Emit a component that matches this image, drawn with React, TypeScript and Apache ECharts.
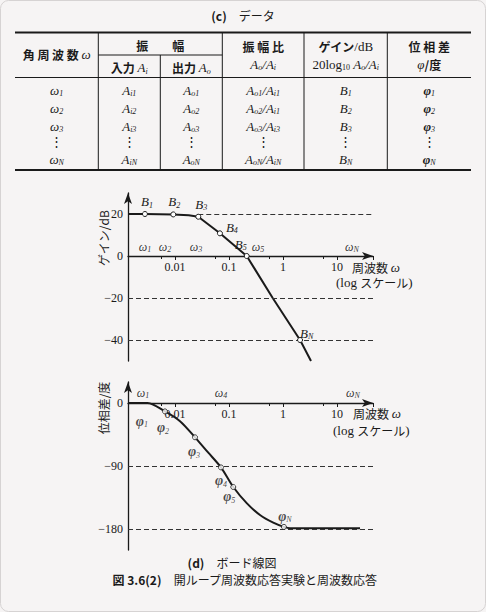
import React, { useEffect, useRef } from 'react';
import * as echarts from 'echarts';

const SERIF = '"Liberation Serif", "DejaVu Serif", serif';
const JP = '"Noto Sans CJK JP", "Noto Sans", sans-serif';
const INK = '#1a1a1a';

// ---- frequency axis range (log scale) ----
const OMEGA_MIN = 0.00135;
const OMEGA_MAX = 46.4;

// ---- gain plot ----
const GAIN_MIN = -50;
const GAIN_MAX = 30;
const gainTickLabels = [20, 0, -20, -40];
const gainPointNames = ['1', '2', '3', '4', '5', 'N'];
const gainPointOmega = [0.00278, 0.0093, 0.027, 0.068, 0.213, 2.07];
const gainPointDb = [20, 19.8, 18.7, 10.8, 0, -40];
const gainCurveOmega = [0.00135, 0.00278, 0.0093, 0.018, 0.027, 0.068, 0.213, 0.645, 2.07, 3.3];
const gainCurveDb = [20, 20, 19.8, 19.4, 18.7, 10.8, 0, -20, -40, -50];
const gainOmegaNames = ['1', '2', '3', '5', 'N'];
const gainOmegaPos = [0.00278, 0.00653, 0.0245, 0.344, 18.9];
const gainRefLevels = [20, -20, -40];

// ---- phase plot ----
const PHASE_MIN = -210;
const PHASE_MAX = 30;
const phaseTickLabels = [0, -90, -180];
const phasePointNames = ['1', '2', '3', '4', '5', 'N'];
const phasePointOmega = [0.00255, 0.00653, 0.0235, 0.0711, 0.12, 1.04];
const phasePointDeg = [0, -12, -49, -92, -120, -177];
const phaseCurveOmega = [0.00135, 0.0031, 0.00653, 0.0124, 0.0235, 0.0414, 0.0711, 0.12, 0.213, 0.375, 0.661, 1.04, 1.35, 26.7];
const phaseCurveDeg = [0, 0, -12, -26, -49, -71, -92, -120, -143, -160, -171, -177, -179, -179];
const phaseOmegaNames = ['1', '4', 'N'];
const phaseOmegaPos = [0.00255, 0.0711, 19.8];
const phaseRefLevels = [-90, -180];

// ---- data table (c) ----
const rowSubs = ['1', '2', '3', '', 'N'];
const ratioInputSubs = ['i1', 'i1', 'i3', '', 'iN'];

// layout
const PLOT_H = 168;
const GAIN_TOP = 193;
const PHASE_TOP = 382;

// label placement (layout, not data)
const gainLabelLayout = [
  { position: 'top', offset: [2, 0] },
  { position: 'top', offset: [1, 0] },
  { position: 'top', offset: [3, 0] },
  { position: 'right', offset: [1, -6] },
  { position: 'left', offset: [5, -12] },
  { position: 'right', offset: [-5, -7] },
];
const phaseLabelLayout = [
  { position: 'bottom', offset: [-1, 4] },
  { position: 'bottom', offset: [-2, 2] },
  { position: 'bottom', offset: [-1, 0] },
  { position: 'bottom', offset: [0, -1] },
  { position: 'bottom', offset: [-4, -5] },
  { position: 'top', offset: [1, 4] },
];

const minus = (v: number) => (v < 0 ? '\u2212' + Math.abs(v) : String(v));

const tableRich: any = {
  j: { fontFamily: JP, fontSize: 12, fontWeight: 'bold', color: INK, lineHeight: 15 },
  i: { fontFamily: SERIF, fontStyle: 'italic', fontSize: 13, color: INK, lineHeight: 15 },
  r: { fontFamily: SERIF, fontSize: 13, color: INK, lineHeight: 15 },
  s: { fontFamily: SERIF, fontStyle: 'italic', fontSize: 8, color: INK, lineHeight: 8, verticalAlign: 'bottom' },
  t: { fontFamily: SERIF, fontSize: 8, color: INK, lineHeight: 8, verticalAlign: 'bottom' },
  p: { fontFamily: SERIF, fontStyle: 'italic', fontWeight: 'bold', fontSize: 13, color: INK, lineHeight: 15 },
  c: { fontFamily: JP, fontSize: 12, color: INK, lineHeight: 14 },
  cb: { fontFamily: JP, fontSize: 12, fontWeight: 'bold', color: INK, lineHeight: 14 },
};

const pointRich: any = {
  b: { fontFamily: SERIF, fontStyle: 'italic', fontSize: 13, color: INK, lineHeight: 15 },
  p: { fontFamily: SERIF, fontStyle: 'italic', fontWeight: 'bold', fontSize: 14, color: INK, lineHeight: 15 },
  w: { fontFamily: SERIF, fontStyle: 'italic', fontSize: 12, color: '#000', lineHeight: 13 },
  s: { fontFamily: SERIF, fontStyle: 'italic', fontSize: 8, color: INK, lineHeight: 8, verticalAlign: 'bottom' },
  sw: { fontFamily: SERIF, fontStyle: 'italic', fontSize: 8, color: '#000', lineHeight: 8, verticalAlign: 'bottom' },
};

function txt(x: number, y: number, text: string, extra: any = {}) {
  return {
    type: 'text',
    x,
    y,
    silent: true,
    rotation: extra.rotation || 0,
    style: {
      text,
      rich: tableRich,
      align: extra.align || 'center',
      textAlign: extra.align || 'center',
      verticalAlign: 'middle',
      textVerticalAlign: 'middle',
      fill: INK,
    },
  };
}

function hline(x1: number, x2: number, y: number, w: number) {
  return { type: 'line', silent: true, shape: { x1, y1: y, x2, y2: y }, style: { stroke: INK, lineWidth: w } };
}
function vline(x: number, y1: number, y2: number, w: number) {
  return { type: 'line', silent: true, shape: { x1: x, y1, x2: x, y2 }, style: { stroke: INK, lineWidth: w } };
}

function buildGraphic() {
  const g: any[] = [];
  g.push({ type: 'rect', silent: true, z: -10, shape: { x: 0.5, y: 0.5, width: 485, height: 611, r: 8 }, style: { fill: '#f6f4f4', stroke: '#d6d3d3', lineWidth: 1 } });
  // title
  g.push(txt(243, 15, '{cb|(c)}{c|　データ}'));
  // table rules
  g.push(hline(15, 471, 32.5, 2));
  g.push(hline(98.3, 222.3, 55, 1));
  g.push(hline(15, 471, 77.5, 1));
  g.push(hline(15, 471, 170, 2));
  [98.3, 222.3, 304, 387.3].forEach((x) => g.push(vline(x, 32.5, 170, 1)));
  g.push(vline(160.3, 55, 170, 1));
  // header
  g.push(txt(56.7, 54, '{j|角 周 波 数 }{i|ω}'));
  g.push(txt(160.3, 45, '{j|振　　幅}'));
  g.push(txt(129.3, 67.5, '{j|入力 }{i|A}{s|i}'));
  g.push(txt(191.3, 67.5, '{j|出力 }{i|A}{s|o}'));
  g.push(txt(263.2, 46.5, '{j|振 幅 比}'));
  g.push(txt(263.2, 64, '{i|A}{s|o}{i|/A}{s|i}'));
  g.push(txt(345.7, 46.5, '{j|ゲイン}{r|/dB}'));
  g.push(txt(345.7, 64, '{r|20log}{t|10}{r| }{i|A}{s|o}{i|/A}{s|i}'));
  g.push(txt(429.2, 46.5, '{j|位 相 差}'));
  g.push(txt(429.2, 64, '{i|φ}{j|/度}'));
  // rows
  const rowY = [90, 108.3, 126, 141.7, 159.3];
  const colX = [56.7, 129.3, 191.3, 263.2, 345.7, 429.2];
  rowSubs.forEach((n, k) => {
    const cells = n
      ? [
          `{i|ω}{s|${n}}`,
          `{i|A}{s|i${n}}`,
          `{i|A}{s|o${n}}`,
          `{i|A}{s|o${n}}{i|/A}{s|${ratioInputSubs[k]}}`,
          `{i|B}{s|${n}}`,
          `{p|φ}{s|${n}}`,
        ]
      : colX.map(() => '{r|⋮}');
    cells.forEach((c, ci) => g.push(txt(colX[ci], rowY[k], c)));
  });
  // axis titles
  g.push(txt(103, 238, '{c|ゲイン/dB}', { rotation: Math.PI / 2 }));
  g.push(txt(103, 408, '{c|位相差/度}', { rotation: Math.PI / 2 }));
  g.push(txt(352, 267, '{c|周波数 }{i|ω}', { align: 'left' }));
  g.push(txt(336, 282, '{r|(log }{c|スケール}{r|)}', { align: 'left' }));
  g.push(txt(353, 413, '{c|周波数 }{i|ω}', { align: 'left' }));
  g.push(txt(333, 430, '{r|(log }{c|スケール}{r|)}', { align: 'left' }));
  // captions
  g.push(txt(232, 562, '{cb|(d)}{c|　ボード線図}'));
  g.push(txt(245, 579, '{cb|図 3.6(2)}{c|　開ループ周波数応答実験と周波数応答}'));
  return g;
}

// x axis drawn along the zero line of its value axis
const xAxisBase = (gridIndex: number, yMin: number, yMax: number) => ({
  type: 'log',
  gridIndex,
  logBase: 10,
  min: OMEGA_MIN,
  max: OMEGA_MAX,
  position: 'bottom',
  offset: -((0 - yMin) / (yMax - yMin)) * PLOT_H,
  axisLine: { show: true, onZero: false, symbol: ['none', 'arrow'], symbolSize: [6, 11], lineStyle: { color: INK, width: 1.3 } },
  axisTick: { show: true, length: 4, lineStyle: { color: INK, width: 1 } },
  minorTick: { show: true, splitNumber: 2, length: 3, lineStyle: { color: INK, width: 1 } },
  axisLabel: {
    margin: 5,
    fontFamily: SERIF,
    fontSize: 12,
    color: INK,
    showMinLabel: false,
    showMaxLabel: false,
    formatter: (v: number) => String(parseFloat(Number(v).toPrecision(3))),
  },
  splitLine: { show: false },
  minorSplitLine: { show: false },
});

const yAxisBase = (gridIndex: number, min: number, max: number, interval: number, shown: number[]) => ({
  type: 'value',
  gridIndex,
  min,
  max,
  interval,
  axisLine: { show: true, onZero: false, symbol: ['none', 'arrow'], symbolSize: [6, 11], lineStyle: { color: INK, width: 1.3 } },
  axisTick: { show: false },
  splitLine: { show: false },
  axisLabel: {
    margin: 5,
    fontFamily: SERIF,
    fontSize: 12,
    color: INK,
    formatter: (v: number) => (shown.indexOf(v) >= 0 ? minus(v) : ''),
  },
});

const dashStyle = { type: [5, 3], color: '#333', width: 1 };

function buildOption(): any {
  return {
    animation: false,
    backgroundColor: '#f6f4f4',
    graphic: { elements: buildGraphic() },
    grid: [
      { left: 128, top: GAIN_TOP, width: 245, height: PLOT_H },
      { left: 128, top: PHASE_TOP, width: 245, height: PLOT_H },
    ],
    xAxis: [xAxisBase(0, GAIN_MIN, GAIN_MAX), xAxisBase(1, PHASE_MIN, PHASE_MAX)],
    yAxis: [
      yAxisBase(0, GAIN_MIN, GAIN_MAX, 10, gainTickLabels),
      yAxisBase(1, PHASE_MIN, PHASE_MAX, 30, phaseTickLabels),
    ],
    series: [
      {
        type: 'line',
        xAxisIndex: 0,
        yAxisIndex: 0,
        data: gainCurveOmega.map((w, i) => [w, gainCurveDb[i]]),
        showSymbol: false,
        symbol: 'none',
        lineStyle: { color: INK, width: 2 },
        z: 3,
        silent: true,
        markLine: {
          silent: true,
          symbol: ['none', 'none'],
          label: { show: false },
          lineStyle: dashStyle,
          data: [
            [{ coord: [gainPointOmega[2], gainRefLevels[0]] }, { coord: [OMEGA_MAX, gainRefLevels[0]] }],
            { yAxis: gainRefLevels[1] },
            { yAxis: gainRefLevels[2] },
          ],
        },
      },
      {
        type: 'scatter',
        xAxisIndex: 0,
        yAxisIndex: 0,
        symbol: 'circle',
        symbolSize: 5,
        itemStyle: { color: '#ffffff', borderColor: INK, borderWidth: 1, opacity: 1 },
        z: 5,
        silent: true,
        label: {
          show: true,
          distance: 2,
          formatter: (p: any) => `{b|B}{s|${gainPointNames[p.dataIndex]}}`,
          rich: pointRich,
        },
        data: gainPointOmega.map((w, i) => ({ value: [w, gainPointDb[i]], label: gainLabelLayout[i] })),
      },
      {
        type: 'scatter',
        xAxisIndex: 0,
        yAxisIndex: 0,
        symbolSize: 1,
        itemStyle: { color: 'rgba(0,0,0,0)' },
        silent: true,
        z: 6,
        label: {
          show: true,
          position: 'top',
          distance: 2,
          formatter: (p: any) => `{w|ω}{sw|${gainOmegaNames[p.dataIndex]}}`,
          rich: pointRich,
        },
        data: gainOmegaPos.map((w) => [w, 0]),
      },
      {
        type: 'line',
        xAxisIndex: 1,
        yAxisIndex: 1,
        data: phaseCurveOmega.map((w, i) => [w, phaseCurveDeg[i]]),
        showSymbol: false,
        symbol: 'none',
        smooth: 0.3,
        lineStyle: { color: INK, width: 2 },
        z: 3,
        silent: true,
        markLine: {
          silent: true,
          symbol: ['none', 'none'],
          label: { show: false },
          lineStyle: dashStyle,
          data: phaseRefLevels.map((v) => ({ yAxis: v })),
        },
      },
      {
        type: 'scatter',
        xAxisIndex: 1,
        yAxisIndex: 1,
        symbol: 'circle',
        symbolSize: 5,
        itemStyle: { color: '#ffffff', borderColor: INK, borderWidth: 1 },
        z: 5,
        silent: true,
        label: {
          show: true,
          distance: 4,
          formatter: (p: any) => `{p|φ}{s|${phasePointNames[p.dataIndex]}}`,
          rich: pointRich,
        },
        data: phasePointOmega.map((w, i) => ({
          value: [w, phasePointDeg[i]],
          label: phaseLabelLayout[i],
          itemStyle: i === 0 ? { color: 'rgba(0,0,0,0)', borderWidth: 0 } : undefined,
        })),
      },
      {
        type: 'scatter',
        xAxisIndex: 1,
        yAxisIndex: 1,
        symbolSize: 1,
        itemStyle: { color: 'rgba(0,0,0,0)' },
        silent: true,
        z: 6,
        label: {
          show: true,
          position: 'top',
          distance: 3,
          formatter: (p: any) => `{w|ω}{sw|${phaseOmegaNames[p.dataIndex]}}`,
          rich: pointRich,
        },
        data: phaseOmegaPos.map((w) => [w, 0]),
      },
    ],
  };
}

export default function App() {
  const ref = useRef<HTMLDivElement>(null);
  useEffect(() => {
    document.body.style.margin = '0';
    const chart = echarts.init(ref.current as HTMLDivElement, null, { renderer: 'svg' });
    chart.setOption(buildOption());
    return () => chart.dispose();
  }, []);
  return <div ref={ref} style={{ width: 486, height: 612 }} />;
}
